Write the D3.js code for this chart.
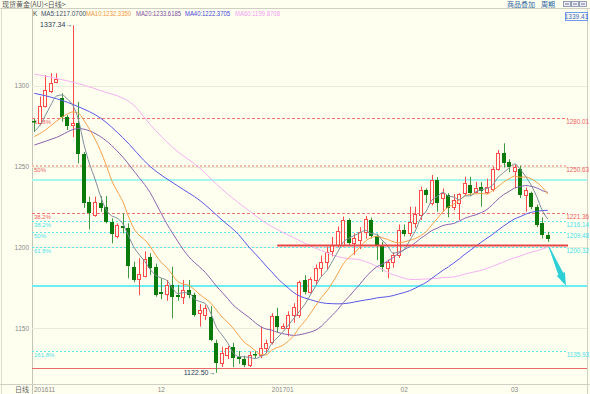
<!DOCTYPE html>
<html>
<head>
<meta charset="utf-8">
<script src="https://d3js.org/d3.v7.min.js"></script>
<style>
body { margin: 0; background: #fffff0; }
svg { display: block; }
text { font-family: "Liberation Sans", Arial, sans-serif; }
.cjk { font-family: "Noto Sans CJK SC", sans-serif; }
</style>
</head>
<body>
<div id="main"></div>
<script>
// 日线数据
var opens = [1278.2,1276.8,1287.6,1296.9,1302.1,1292.6,1280.8,1275.7,1277.1,1257.8,
	1228.3,1220.0,1227.7,1225.3,1216.0,1207.1,1213.4,1211.8,1188.1,1180.5,
	1182.3,1194.3,1188.1,1172.6,1171.2,1176.8,1170.5,1169.1,1173.6,1170.5,
	1159.3,1158.2,1157.2,1141.2,1128.4,1133.5,1138.6,1132.4,1130.8,1127.3,
	1134.1,1133.5,1137.6,1141.8,1157.5,1150.0,1150.0,1158.2,1158.2,1179.9,
	1172.6,1179.9,1187.1,1191.2,1197.5,1201.6,1201.6,1216.7,1202.8,1204.6,
	1209.8,1217.1,1206.8,1201.5,1187.1,1190.7,1195.5,1210.8,1208.7,1214.9,
	1220.1,1235.5,1227.3,1241.7,1230.4,1232.4,1225.2,1227.3,1233.5,1238.6,
	1234.5,1237.6,1234.5,1236.4,1248.8,1258.1,1253.0,1247.4,1248.8,1232.4,
	1233.5,1225.2,1215.2,1207.6];
var closes = [1277.4,1287.6,1297.3,1301.5,1304.1,1280.8,1275.3,1277.1,1257.8,1227.3,
	1221.1,1228.3,1224.2,1216.0,1208.3,1213.9,1211.8,1188.5,1179.9,1183.8,
	1192.7,1187.1,1170.5,1171.2,1176.8,1169.5,1169.1,1173.6,1170.5,1158.2,
	1161.4,1162.3,1142.8,1128.4,1134.6,1137.6,1131.4,1130.8,1127.3,1133.5,
	1133.3,1137.6,1141.2,1157.5,1150.5,1151.5,1158.2,1163.0,1178.7,1172.6,
	1180.3,1187.1,1191.2,1197.3,1201.6,1209.9,1217.1,1202.7,1205.9,1209.8,
	1217.5,1206.8,1200.6,1188.1,1191.2,1195.5,1210.5,1208.1,1216.0,1220.7,
	1235.5,1232.4,1241.4,1227.3,1233.5,1224.2,1229.3,1232.8,1239.7,1233.5,
	1237.0,1235.1,1237.6,1248.8,1258.1,1251.9,1249.5,1250.0,1232.4,1235.5,
	1225.2,1214.0,1207.6,1205.5];
var highs = [1279.5,1293.2,1306.6,1307.7,1307.7,1295.3,1281.9,1337.34,1290.0,1259.0,
	1231.4,1231.4,1231.8,1231.8,1218.0,1214.9,1221.1,1214.9,1191.2,1193.3,
	1197.5,1196.5,1190.0,1180.9,1179.9,1188.1,1176.8,1179.9,1179.9,1172.0,
	1165.0,1164.4,1163.7,1143.0,1138.6,1139.0,1141.0,1136.0,1133.0,1135.6,
	1136.0,1151.0,1143.0,1159.3,1162.7,1153.0,1160.5,1165.5,1179.5,1182.8,
	1181.5,1189.5,1195.0,1200.5,1206.5,1213.0,1219.1,1218.0,1208.7,1212.5,
	1219.5,1218.5,1208.5,1203.5,1192.5,1197.0,1214.2,1214.2,1225.2,1225.2,
	1237.6,1236.5,1244.8,1243.5,1236.5,1233.5,1233.0,1233.5,1243.7,1243.7,
	1240.5,1240.5,1242.5,1250.0,1260.2,1264.4,1254.5,1251.5,1250.5,1237.0,
	1234.5,1226.5,1218.5,1209.7];
var lows = [1271.4,1275.5,1286.5,1295.5,1301.5,1277.7,1272.6,1268.1,1252.0,1224.5,
	1211.2,1219.0,1222.0,1214.9,1202.5,1205.7,1208.7,1180.9,1178.5,1170.5,
	1181.5,1183.0,1169.5,1168.0,1167.0,1156.2,1167.0,1165.0,1168.5,1157.2,
	1151.0,1155.1,1142.0,1122.5,1126.0,1131.0,1126.0,1128.0,1126.0,1126.0,
	1131.5,1131.5,1134.5,1140.0,1147.5,1149.5,1145.0,1153.5,1156.5,1171.0,
	1171.5,1177.0,1182.0,1186.5,1194.5,1200.0,1200.5,1201.0,1195.5,1199.0,
	1205.5,1205.5,1192.2,1185.0,1180.9,1187.5,1193.5,1206.8,1207.0,1212.0,
	1217.0,1227.5,1226.0,1222.1,1222.1,1218.6,1223.0,1217.0,1232.5,1232.0,
	1233.5,1225.2,1233.0,1234.5,1247.5,1249.5,1246.5,1236.6,1230.5,1222.1,
	1223.5,1212.5,1205.5,1203.5];

// 均线在图左侧 (数据不足部分) 的读数: [索引, 数值]
var ma5Head = [[0,1271.6],[1,1275.5],[2,1281.5],[3,1288.0]];
var ma10Head = [[0,1268.5],[2,1272.5],[4,1278.0],[6,1282.5],[7,1283.8],[8,1283.0]];
var ma20Head = [[0,1263.3],[4,1268.0],[8,1273.5],[12,1268.5],[16,1256.0]];
var ma40Head = [[0,1295.3],[4,1292.0],[8,1287.0],[12,1280.0],[16,1268.0],[21,1250.0],[26,1238.0],[30,1229.0],[34,1217.0],[37,1208.0]];
var ma60Head = [[0,1307.2],[6,1303.0],[12,1297.0],[18,1288.0],[21,1276.0],[25,1262.0],[30,1249.0],[34,1236.0],[38,1225.0],[42,1215.0],[47,1206.0],[52,1198.0],[56,1193.5]];

var maNames = ["MA5","MA10","MA20","MA40","MA60"];
var maPeriods = [5,10,20,40,60];
var maLegendValues = ["1217.0700","1232.3350","1233.6185","1222.3705","1199.8708"];

// 月份刻度
var monthIndex = [0,23,45,67,87];
var monthLabels = ["201611","12","201701","02","03"];
var yTicks = [1150,1200,1250,1300];

// 黄金分割线
var redFibValues = [1280.01,1250.63,1221.36];
var redFibLabels = ["61.8%","50%","38.2%"];
var cyanFibValues = [1216.14,1209.48,1200.32,1135.93];
var cyanFibLabels = ["38.2%","50%","61.8%","161.8%"];
var cyanSolidValues = [1241.4,1176.2];
var redBaseValue = 1125.5;
var supportValue = 1201.2;
var supportStart = 44;
var arrowFrom = [93.3,1199.8];
var arrowTo = [96.3,1176.3];
var topValue = "1339.41";

var W = 590, H = 394;
var plotLeft = 32, plotRight = 587, labelX = 568, axisY = 384.5;
var bg = "#fffff0";

var svg = d3.select("#main").append("svg").attr("width", W).attr("height", H);
svg.append("rect").attr("width", W).attr("height", H).attr("fill", bg);

var n = closes.length;
var x = d3.scaleBand().domain(d3.range(n)).range([31.5, 550.5]).paddingInner(0.27).paddingOuter(0.135);
var xc = d3.scaleLinear().domain([0, n - 1]).range([x(0) + x.bandwidth() / 2, x(n - 1) + x.bandwidth() / 2]);
var y = d3.scaleLinear().domain([1150, 1300]).range([328.3, 85.7]);

// 标题栏
svg.append("text").attr("class", "cjk").attr("x", 2).attr("y", 7).attr("font-size", 7)
	.attr("fill", "#555").text("现货黄金(AU)<日线>");
svg.append("text").attr("class", "cjk").attr("x", 507).attr("y", 7).attr("font-size", 7)
	.attr("fill", "#1f5f9f").attr("text-decoration", "underline").text("商品叠加");
svg.append("text").attr("class", "cjk").attr("x", 541).attr("y", 7).attr("font-size", 7)
	.attr("fill", "#1f5f9f").attr("text-decoration", "underline").text("周期");
[563.5, 571.5, 579.5].forEach(function(bx) {
	svg.append("rect").attr("x", bx).attr("y", 1.5).attr("width", 7).attr("height", 5)
		.attr("fill", "#eef").attr("stroke", "#7a8aa0").attr("stroke-width", 0.8);
	svg.append("line").attr("x1", bx + 1.5).attr("x2", bx + 5.5).attr("y1", 4).attr("y2", 4)
		.attr("stroke", "#556").attr("stroke-width", 0.8);
});

// 框线
svg.append("line").attr("x1", 0).attr("x2", W).attr("y1", 8.5).attr("y2", 8.5).attr("stroke", "#cfcfc4");
svg.append("line").attr("x1", plotLeft + 0.5).attr("x2", plotLeft + 0.5).attr("y1", 8.5).attr("y2", H).attr("stroke", "#c4c4b8");
svg.append("line").attr("x1", plotRight + 0.5).attr("x2", plotRight + 0.5).attr("y1", 8.5).attr("y2", H).attr("stroke", "#cfcfc4");
svg.append("line").attr("x1", 1.5).attr("x2", 1.5).attr("y1", 8.5).attr("y2", H).attr("stroke", "#dcdcd0");
svg.append("line").attr("x1", 0).attr("x2", W).attr("y1", axisY).attr("y2", axisY).attr("stroke", "#cfcfc4");

// 网格与纵轴
yTicks.forEach(function(t) {
	svg.append("line").attr("x1", plotLeft).attr("x2", plotRight)
		.attr("y1", Math.round(y(t)) + 0.5).attr("y2", Math.round(y(t)) + 0.5)
		.attr("stroke", "#ebe9d8");
	svg.append("text").attr("x", 29).attr("y", y(t) + 2.5).attr("font-size", 6.5)
		.attr("text-anchor", "end").attr("fill", "#888").text(t);
});

// 横轴
svg.append("text").attr("class", "cjk").attr("x", 29).attr("y", 392).attr("font-size", 7)
	.attr("text-anchor", "end").attr("fill", "#666").text("日线");
monthIndex.forEach(function(mi, k) {
	var tx = k === 0 ? plotLeft + 2 : xc(mi);
	svg.append("text").attr("x", tx).attr("y", 392).attr("font-size", 6.5)
		.attr("text-anchor", k === 0 ? "start" : "middle").attr("fill", "#888").text(monthLabels[k]);
});

function hline(v, x1, x2, color, width, dash) {
	var yy = Math.round(y(v)) + (width % 2 ? 0.5 : 0);
	var l = svg.append("line").attr("x1", x1).attr("x2", x2).attr("y1", yy).attr("y2", yy)
		.attr("stroke", color).attr("stroke-width", width);
	if (dash) l.attr("stroke-dasharray", dash);
	return l;
}
function sideLabels(v, pct, color) {
	svg.append("text").attr("x", plotLeft + 2).attr("y", y(v) + 6).attr("font-size", 6)
		.attr("fill", color).text(pct);
	svg.append("text").attr("x", 589).attr("y", y(v) + 6).attr("font-size", 6.3)
		.attr("text-anchor", "end").attr("fill", color).text(d3.format(".2f")(v));
}

// 青色实线
cyanSolidValues.forEach(function(v, k) {
	hline(v, plotLeft, plotRight, k === 0 ? "#a6f7ee" : "#6aeef2", 2);
});
// 红色分割线
redFibValues.forEach(function(v, k) {
	if (k === 1) hline(v, plotLeft, labelX, "#f6bcaa", 2, "2,2");
	else hline(v, plotLeft, labelX, "#f07474", 1, "3,2");
	sideLabels(v, redFibLabels[k], "#f06060");
});
// 青色分割线
cyanFibValues.forEach(function(v, k) {
	hline(v, plotLeft, labelX, "#5fe6ea", 1, "2,2");
	sideLabels(v, cyanFibLabels[k], "#49dfe6");
});
hline(redBaseValue, plotLeft, plotRight, "#e86a6a", 1);

// K线
var up = "#ff4a4a", down = "#0a7a0a";
var g = svg.append("g");
d3.range(n).forEach(function(i) {
	var isUp = closes[i] >= opens[i];
	var col = isUp ? up : down;
	var cx = Math.round(xc(i)) + 0.5;
	var bx = Math.round(x(i));
	var bw = Math.max(3, Math.round(x.bandwidth()));
	g.append("line").attr("x1", cx).attr("x2", cx).attr("y1", y(highs[i])).attr("y2", y(lows[i]))
		.attr("stroke", isUp ? up : "#3f9a3f").attr("stroke-width", 1);
	var top = y(Math.max(opens[i], closes[i])), bot = y(Math.min(opens[i], closes[i]));
	if (isUp) {
		g.append("rect").attr("x", bx + 0.5).attr("y", Math.round(top) + 0.5)
			.attr("width", bw - 1).attr("height", Math.max(1, Math.round(bot) - Math.round(top)))
			.attr("fill", bg).attr("stroke", col).attr("stroke-width", 1);
	} else {
		g.append("rect").attr("x", bx).attr("y", Math.round(top))
			.attr("width", bw).attr("height", Math.max(1.5, Math.round(bot) - Math.round(top)))
			.attr("fill", col);
	}
});

// 均线
function maSeries(period, head) {
	var pts = head.map(function(p) { return p; });
	for (var i = period - 1; i < n; i++) {
		pts.push([i, d3.mean(closes.slice(i - period + 1, i + 1))]);
	}
	return pts;
}
var maColors = ["#7c8c9a", "#f8a046", "#8a62b0", "#5858e8", "#f6b0f0"];
var maLabelColors = ["#3b4d66", "#f5953a", "#7b4f9e", "#4646d8", "#f39cf0"];
var heads = [ma5Head, ma10Head, ma20Head, ma40Head, ma60Head];
var line = d3.line().x(function(d) { return xc(d[0]); }).y(function(d) { return y(d[1]); })
	.curve(d3.curveMonotoneX);
[4, 3, 2, 1, 0].forEach(function(k) {
	svg.append("path").attr("d", line(maSeries(maPeriods[k], heads[k])))
		.attr("fill", "none").attr("stroke", maColors[k]).attr("stroke-width", 1);
});

// 支撑线与箭头
svg.append("line").attr("x1", xc(supportStart)).attr("x2", labelX)
	.attr("y1", y(supportValue)).attr("y2", y(supportValue))
	.attr("stroke", "#e8474a").attr("stroke-width", 2);
var ax1 = xc(arrowFrom[0]), ay1 = y(arrowFrom[1]), ax2 = xc(arrowTo[0]), ay2 = y(arrowTo[1]);
var ang = Math.atan2(ay2 - ay1, ax2 - ax1);
var hl = 13, hw = 4.5, sw = 2.2;
var bxh = ax2 - hl * Math.cos(ang), byh = ay2 - hl * Math.sin(ang);
// 楔形箭身
svg.append("path").attr("d", "M" + ax1 + "," + ay1 +
	"L" + (bxh + sw * Math.sin(ang)) + "," + (byh - sw * Math.cos(ang)) +
	"L" + (bxh - sw * Math.sin(ang)) + "," + (byh + sw * Math.cos(ang)) + "Z")
	.attr("fill", "#2ccfd6").attr("stroke", "#2ccfd6").attr("stroke-width", 1);
svg.append("path").attr("d", "M" + ax2 + "," + ay2 +
	"L" + (bxh + hw * Math.sin(ang)) + "," + (byh - hw * Math.cos(ang)) +
	"L" + (bxh - hw * Math.sin(ang)) + "," + (byh + hw * Math.cos(ang)) + "Z")
	.attr("fill", "#2ccfd6");

// 最高最低标注
var hiIdx = d3.maxIndex(highs), loIdx = d3.minIndex(lows);
svg.append("text").attr("x", xc(hiIdx) - 0.5).attr("y", y(highs[hiIdx]) + 2).attr("font-size", 7)
	.attr("text-anchor", "end").attr("fill", "#2a3a5a").text(d3.format(".2f")(highs[hiIdx]) + "→");
svg.append("text").attr("x", xc(loIdx) - 1).attr("y", y(lows[loIdx]) + 2.5).attr("font-size", 7)
	.attr("text-anchor", "end").attr("fill", "#2a3a5a").text(d3.format(".2f")(lows[loIdx]) + "→");

// 图例
svg.append("text").attr("x", 33).attr("y", 16).attr("font-size", 6.5).attr("fill", "#444").text("K");
var legendX = [41, 86, 136, 185, 235];
maNames.forEach(function(nm, k) {
	svg.append("text").attr("x", legendX[k]).attr("y", 16).attr("font-size", 6.8)
		.attr("fill", maLabelColors[k]).attr("textLength", 45).attr("lengthAdjust", "spacingAndGlyphs")
		.text(nm + ":" + maLegendValues[k]);
});

// 右上角最高值框
svg.append("rect").attr("x", 565.5).attr("y", 12.5).attr("width", 22).attr("height", 8)
	.attr("fill", bg).attr("stroke", "#6f9cf0");
svg.append("text").attr("x", 576.5).attr("y", 19).attr("font-size", 6.5).attr("text-anchor", "middle")
	.attr("fill", "#3a66c8").text(topValue);
</script>
</body>
</html>
